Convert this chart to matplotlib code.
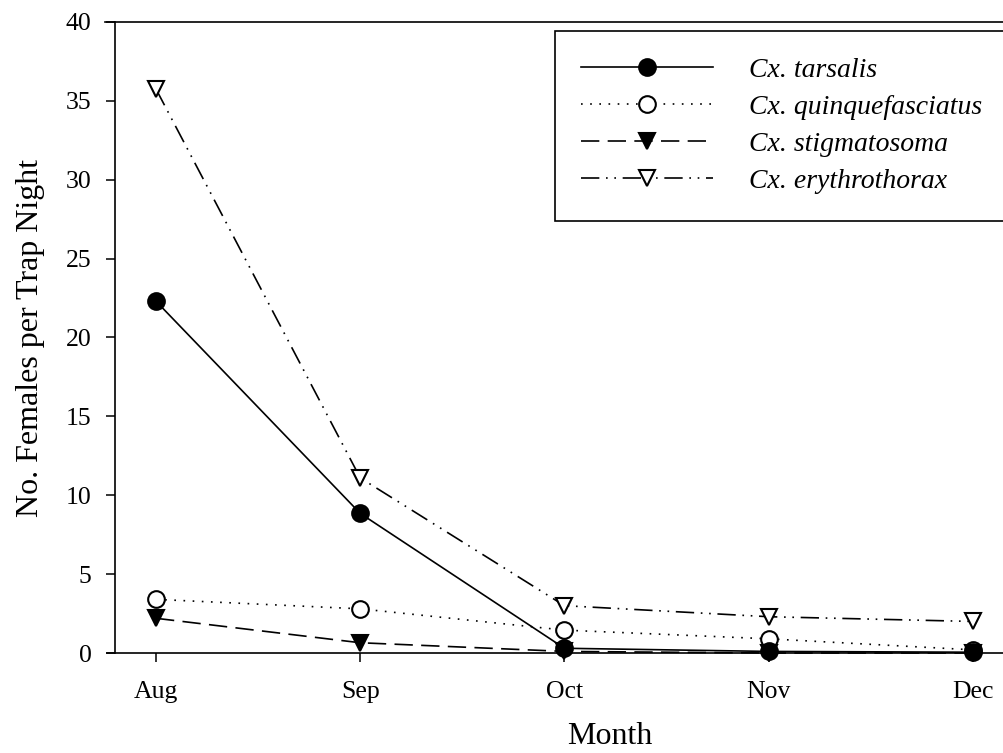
"""
Monthly Culex abundance (females per trap night), Aug-Dec.
Writes out.png.
"""
import matplotlib
matplotlib.use("Agg")
import matplotlib.pyplot as plt

# ---- monthly means per trap night ----
MONTHS = ["Aug", "Sep", "Oct", "Nov", "Dec"]
TARSALIS = [22.3, 8.85, 0.3, 0.1, 0.05]
QUINQUE = [3.4, 2.8, 1.45, 0.9, 0.2]
STIGMA = [2.2, 0.65, 0.1, 0.0, 0.0]
ERYTHRO = [35.75, 11.1, 3.0, 2.3, 2.0]

plt.rcParams["font.family"] = ["Liberation Serif", "DejaVu Serif"]

fig = plt.figure(figsize=(10.04, 7.53), dpi=100)
ax = fig.add_axes([0.1147, 0.1328, 0.895, 0.838])

x = range(len(MONTHS))
lw = 1.2
common = dict(color="black", lw=lw, clip_on=False, mec="black", mew=1.5)
ax.plot(x, ERYTHRO, marker="v", ms=12, mfc="white",
        ls=(0, (11, 4, 1, 4, 1, 4)), label="Cx. erythrothorax", zorder=3, **common)
ax.plot(x, QUINQUE, marker="o", ms=12, mfc="white",
        ls=(0, (1, 4.5)), label="Cx. quinquefasciatus", zorder=4, **common)
ax.plot(x, STIGMA, marker="v", ms=12, mfc="black",
        ls=(0, (11, 5)), label="Cx. stigmatosoma", zorder=5, **common)
ax.plot(x, TARSALIS, marker="o", ms=12, mfc="black",
        ls="-", label="Cx. tarsalis", zorder=6, **common)

ax.set_xlim(-0.2, 4.2)
ax.set_ylim(0, 40)
ax.set_xticks(list(x))
ax.set_xticklabels(MONTHS)
ax.set_yticks(range(0, 41, 5))

for s in ["left", "top", "bottom", "right"]:
    ax.spines[s].set_linewidth(1.2)
ax.spines["top"].set_bounds(-0.25, 4.2)
ax.spines["bottom"].set_bounds(-0.24, 4.2)

ax.tick_params(axis="both", direction="out", length=6.5, width=1.1,
               labelsize=18.5)
ax.tick_params(axis="x", pad=14)
ax.tick_params(axis="y", pad=10.5)

ax.set_ylabel("No. Females per Trap Night", fontsize=23)
ax.yaxis.set_label_coords(-0.078, 0.5)
ax.set_xlabel("Month", fontsize=23)
ax.xaxis.set_label_coords(0.5506, -0.110)

# legend in the order tarsalis, quinque, stigma, erythro
h, l = ax.get_legend_handles_labels()
order = [3, 1, 2, 0]
leg = ax.legend([h[i] for i in order], [l[i] for i in order],
                loc="upper left", bbox_to_anchor=(555 / 1004, 1 - 31 / 753),
                bbox_transform=fig.transFigure, borderaxespad=0,
                prop={"family": "Liberation Serif", "style": "italic", "size": 20},
                handlelength=4.75, handletextpad=1.3, numpoints=1,
                borderpad=0.95, labelspacing=0.42, fancybox=False,
                edgecolor="black", framealpha=1)
leg.get_frame().set_linewidth(1.2)

fig.savefig("out.png", dpi=100)
